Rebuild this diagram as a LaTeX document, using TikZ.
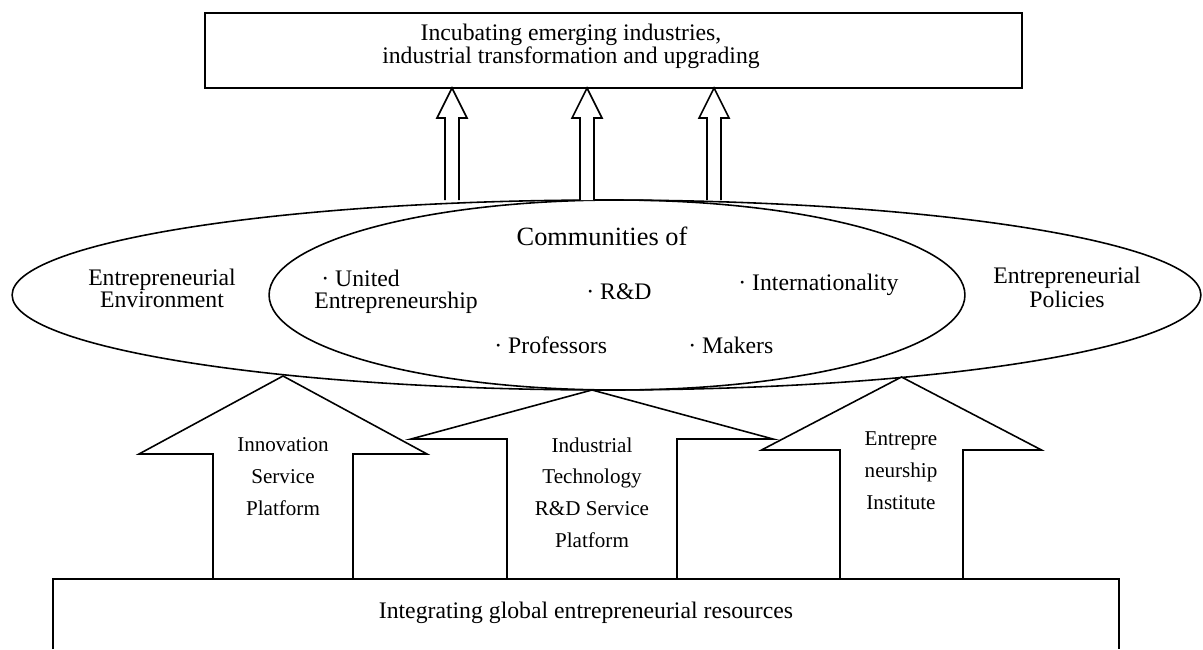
\documentclass[tikz,border=0pt]{standalone}
\usepackage{fontspec}
\setmainfont{Liberation Serif}
\usetikzlibrary{shapes.geometric}

\tikzset{
  frame/.style={draw, line width=0.9pt, inner sep=0pt},
  oval/.style={ellipse, draw, line width=0.9pt, inner sep=0pt},
  hollow/.style={draw, fill=white, line width=0.9pt, line join=miter},
  headtext/.style={anchor=base, align=center, inner sep=0pt, font=\fontsize{13.5}{13}\selectfont},
  ovaltext/.style={anchor=base, align=center, inner sep=0pt, font=\fontsize{13.5}{12}\selectfont},
  itemtext/.style={anchor=base west, align=left, inner sep=0pt, font=\fontsize{13.5}{12.5}\selectfont},
  pillartext/.style={anchor=base, align=center, inner sep=0pt, font=\fontsize{12}{18}\selectfont},
}

\newcommand{\blockarrow}[6]{%
  \draw[hollow] ({#1-#4},#2) -- ({#1-#4},{#3+#6}) -- ({#1-#5},{#3+#6}) -- (#1,#3)
    -- ({#1+#5},{#3+#6}) -- ({#1+#4},{#3+#6}) -- ({#1+#4},#2);}

\begin{document}
\begin{tikzpicture}[x=0.02cm, y=-0.02cm]
\useasboundingbox (0,0) rectangle (1203,649);

\node[oval, minimum width=23.78cm, minimum height=3.8cm] (outer) at (606.5,295) {};
\node[oval, minimum width=13.92cm, minimum height=3.8cm] (inner) at (617,295) {};

\node[frame, minimum width=16.34cm, minimum height=1.5cm] (goal) at (613.5,50.5) {};
\node[headtext] (goaltext) at (571,63) {Incubating emerging industries,\\industrial transformation and upgrading};

\blockarrow{452}{200}{88}{7}{15}{30}
\blockarrow{587}{200}{88}{7}{15}{30}
\blockarrow{714}{200}{88}{7}{15}{30}

\node[ovaltext] (environment) at (162,307) {Entrepreneurial\\Environment};
\node[ovaltext] (policies) at (1067,307) {Entrepreneurial\\Policies};
\node[ovaltext, font=\fontsize{15}{15}\selectfont] (communities) at (602,245) {Communities of};
\node[itemtext] (united) at (314,308) {\hspace*{4pt}· United\\Entrepreneurship};
\node[itemtext] (rnd) at (586,299) {· R\&D};
\node[itemtext] (intl) at (738,290) {· Internationality};
\node[itemtext] (professors) at (494,353) {· Professors};
\node[itemtext] (makers) at (688,353) {· Makers};

\blockarrow{592}{579}{390}{85}{181}{49}
\blockarrow{283}{579}{376}{70}{144}{78}
\blockarrow{901.5}{579}{377}{61.5}{140}{73}

\node[pillartext] (innovation) at (283,515) {Innovation\\Service\\Platform};
\node[pillartext] (industrial) at (592,547) {Industrial\\Technology\\R\&D Service\\Platform};
\node[pillartext] (institute) at (901,509) {Entrepre\\neurship\\Institute};

\draw[line width=0.9pt] (53,649) |- (1119,579) -- (1119,649);
\node[headtext] (resources) at (586,618) {Integrating global entrepreneurial resources};
\end{tikzpicture}
\end{document}
